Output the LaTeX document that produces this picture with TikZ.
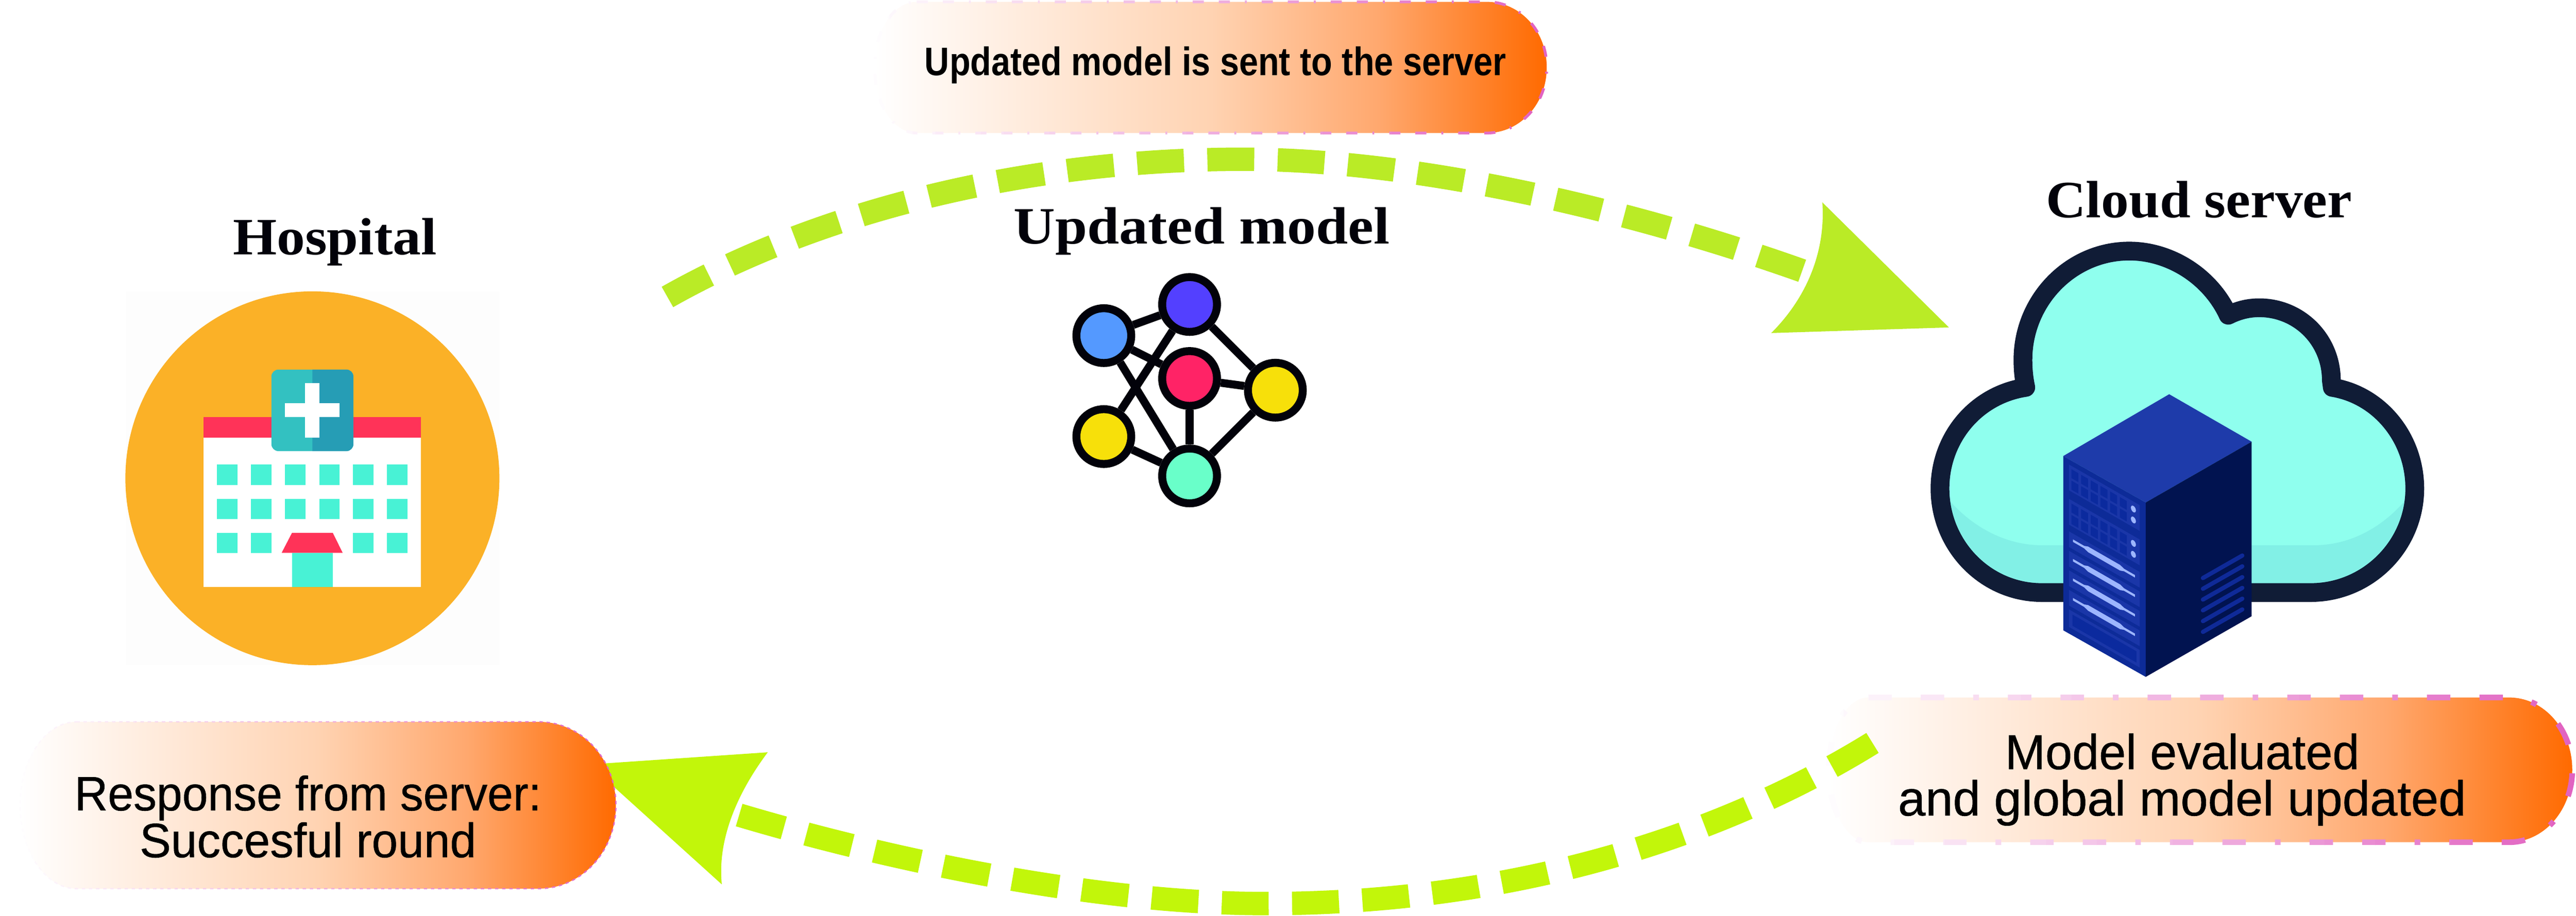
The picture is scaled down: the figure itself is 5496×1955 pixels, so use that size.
\documentclass[tikz,border=0pt]{standalone}
\usepackage{fontspec}
\usepackage{graphicx}
\setmainfont{Liberation Serif}
\newfontfamily\boxfont[FakeBold=0.6]{Liberation Sans}
\newfontfamily\boxfontb{Liberation Sans Bold}
\definecolor{inkc}{HTML}{02020A}
\definecolor{orangec}{HTML}{FBB127}
\definecolor{tealc}{HTML}{48F2D5}
\definecolor{redc}{HTML}{FF3358}
\definecolor{signa}{HTML}{33C1C1}
\definecolor{signb}{HTML}{269DB5}
\definecolor{nblue}{HTML}{5499FF}
\definecolor{npurple}{HTML}{5340FF}
\definecolor{nred}{HTML}{FF2366}
\definecolor{nyellow}{HTML}{F7E00A}
\definecolor{ngreen}{HTML}{69FFC9}
\definecolor{arrowa}{HTML}{BAEB26}
\definecolor{arrowb}{HTML}{C2F60A}
\definecolor{cloudf}{HTML}{8FFFEE}
\definecolor{cloudd}{HTML}{82F0E6}
\definecolor{cloudl}{HTML}{101C36}
\definecolor{srvtop}{HTML}{1E3BAA}
\definecolor{srvleft}{HTML}{0D2B98}
\definecolor{srvright}{HTML}{011350}
\definecolor{srvpanel}{HTML}{1A36A8}
\definecolor{srvcell}{HTML}{0B2A9E}
\definecolor{srvbar}{HTML}{9DB6FF}
\definecolor{srvvent}{HTML}{0F2A98}
\definecolor{bpink}{HTML}{E060C0}
\definecolor{gmid}{HTML}{FFD3B2}
\definecolor{gq}{HTML}{FFA86E}
\definecolor{gend}{HTML}{FF6A00}
\pgfdeclarehorizontalshading{boxgrad}{100bp}{color(0bp)=(white); color(25bp)=(white); color(50bp)=(gmid); color(62.5bp)=(gq); color(75bp)=(gend); color(100bp)=(gend)}
\tikzset{
  netnode/.style={circle,draw=inkc,line width=4.25pt,minimum size=29.25pt,inner sep=0pt},
  netedge/.style={draw=inkc,line width=4.25pt},
  titletext/.style={anchor=base,inner sep=0pt,text=inkc,font=\fontsize{28pt}{32pt}\selectfont\bfseries},
  boxtext/.style={anchor=base,inner sep=0pt,text=black},
  window/.style={fill=tealc},
  arcline/.style={line width=12.5pt,dash pattern=on 25pt off 12.5pt}
}
\def\pathA{(1956,4) -- (3172,4) .. controls (3243,4) and (3300,66) .. (3300,144) .. controls (3300,222) and (3243,284) .. (3172,284) -- (1956,284) .. controls (1906,284) and (1866,222) .. (1866,144) .. controls (1866,66) and (1906,4) .. (1956,4)}
\def\pathB{(3986,1489) -- (5353,1489) .. controls (5428,1489) and (5488,1558) .. (5488,1643.5) .. controls (5488,1729) and (5428,1798) .. (5353,1798) -- (3986,1798) .. controls (3940,1798) and (3902,1729) .. (3902,1643.5) .. controls (3902,1558) and (3940,1489) .. (3986,1489)}
\def\pathC{(163,1541) -- (1150,1541) .. controls (1241,1541) and (1314,1621) .. (1314,1719) .. controls (1314,1817) and (1241,1897) .. (1150,1897) -- (163,1897) .. controls (97,1897) and (43,1817) .. (43,1719) .. controls (43,1621) and (97,1541) .. (163,1541)}
\newcommand{\gradstroke}[5]{%
  \foreach \i in {0,...,29}{%
    \pgfmathsetmacro\xa{#2+(#3-#2)/30*\i-0.4}%
    \pgfmathsetmacro\xb{#2+(#3-#2)/30*(\i+1)+0.4}%
    \pgfmathsetmacro\pc{100*(\i+0.5)/30}%
    \begin{scope}
      \clip (\xa,-20) rectangle (\xb,1975);
      \draw[draw=bpink!\pc!white,line width=#4,dash pattern=#5] #1 -- cycle;
    \end{scope}%
  }%
}
\begin{document}
\begin{tikzpicture}[x=0.25pt,y=-0.25pt]
\useasboundingbox (0,0) rectangle (5496,1955);
\fill[white] (0,0) rectangle (5496,1955);

% Hospital
\node[titletext] (hosp) at (714.5,544) {\resizebox{108.75pt}{\height}{Hospital}};
\fill[white!99.3!black] (268,622) rectangle (1065,1420);
\fill[orangec] (666.5,1021) circle [radius=399];
\fill[redc] (434,890) rectangle (898,934);
\fill[white] (434,934) rectangle (898,1253);
\foreach \x in {463,535.6,608,681,753,825.6}{
  \foreach \y in {992,1064.6}{ \fill[window] (\x,\y) rectangle ++(43.6,43.6); }
}
\foreach \x in {463,535.6,753,825.6}{ \fill[window] (\x,1137.5) rectangle ++(43.6,43); }
\fill[window] (623,1180) rectangle (710,1253);
\fill[redc] (623,1137.5) -- (710,1137.5) -- (731,1180) -- (601,1180) -- cycle;
\fill[signa,rounded corners=3.75pt] (579,789) rectangle (754,963);
\begin{scope}
  \clip (666.5,780) rectangle (760,970);
  \fill[signb,rounded corners=3.75pt] (579,789) rectangle (754,963);
\end{scope}
\fill[white] (651,818) rectangle (681,934);
\fill[white] (607.5,861) rectangle (724.5,890);

% Network
\node[titletext] (updt) at (2564,521) {\resizebox{200.5pt}{\height}{Updated model}};
\node[netnode,fill=nblue] (n1) at (2355,716.5) {};
\node[netnode,fill=npurple] (n2) at (2538,650) {};
\node[netnode,fill=nred] (n3) at (2538,808) {};
\node[netnode,fill=nyellow] (n4) at (2721,833) {};
\node[netnode,fill=nyellow] (n5) at (2355,932) {};
\node[netnode,fill=ngreen] (n6) at (2538,1016) {};
\foreach \a/\b in {n1/n2,n2/n5,n1/n3,n1/n6,n2/n4,n3/n4,n3/n6,n5/n6,n4/n6}{
  \draw[netedge] (\a) -- (\b);
}

% Cloud
\node[titletext] (clds) at (4691.5,464) {\resizebox{163.25pt}{\height}{Cloud server}};
\def\cloudpath{(4356,1265) .. controls (4236,1265) and (4139,1165) .. (4139,1043) .. controls (4139,934) and (4216,843) .. (4322,827) .. controls (4318,808) and (4316,790) .. (4316,768) .. controls (4316,642) and (4417,536) .. (4543,536) .. controls (4630,536) and (4716,590) .. (4754,673) .. controls (4776,662) and (4798,657) .. (4820,657) .. controls (4905,657) and (4974,725) .. (4974,812) -- (4976,827) .. controls (5076,843) and (5152,934) .. (5152,1043) .. controls (5152,1165) and (5052,1265) .. (4930,1265) -- cycle}
\fill[cloudf] \cloudpath;
\fill[cloudd] (4139,1043) .. controls (4190,1115) and (4270,1164) .. (4356,1164) -- (4937,1164) .. controls (5025,1164) and (5100,1115) .. (5152,1043) .. controls (5152,1165) and (5052,1265) .. (4930,1265) -- (4356,1265) .. controls (4236,1265) and (4139,1165) .. (4139,1043) -- cycle;
\draw[cloudl,line width=10pt,line join=round] \cloudpath;

% Server
\fill[srvtop] (4628,841.6) -- (4804,943) -- (4578,1072.7) -- (4402,973.6) -- cycle;
\fill[srvleft] (4402,973.6) -- (4578,1072.7) -- (4578,1445) -- (4402,1345.6) -- cycle;
\fill[srvright] (4578,1072.7) -- (4804,943) -- (4804,1315.5) -- (4578,1445) -- cycle;
\foreach \i in {0,...,5}{
  \draw[srvvent,line width=2.25pt,line cap=round] (4700,1234+23*\i) -- (4784,1186+23*\i);
}
\begin{scope}[shift={(4380,950)},scale=0.33333,yslant=-0.575]
  \foreach \v in {66,286}{
    \fill[srvpanel] (103,\v) rectangle (555,\v+165);
    \foreach \c in {0,...,5}{
      \fill[srvcell] (118+62*\c,\v+21) rectangle ++(45,57);
      \fill[srvcell] (118+62*\c,\v+94) rectangle ++(45,58);
    }
    \fill[srvbar] (515,\v+48) ellipse [x radius=16,y radius=20];
    \fill[srvbar] (515,\v+118) ellipse [x radius=16,y radius=20];
  }
  \foreach \v in {494,619,744,869}{
    \fill[srvpanel] (103,\v) rectangle (555,\v+100);
    \fill[srvbar] (128,\v+37) -- (200,\v+37) -- (225,\v+27) -- (430,\v+27) -- (455,\v+37) -- (525,\v+37) -- (525,\v+53) -- (455,\v+53) -- (430,\v+63) -- (225,\v+63) -- (200,\v+53) -- (128,\v+53) -- cycle;
  }
  \fill[srvpanel] (103,994) rectangle (555,1106);
  \fill[srvcell] (125,1014) rectangle (535,1086);
\end{scope}

% Box B
\shade[shading=boxgrad] \pathB -- cycle;
\gradstroke{\pathB}{3880}{5500}{3pt}{on 12.5pt off 15.5pt on 12.5pt off 15.5pt on 3pt off 15.5pt}
\node[boxtext] (btxa) at (4656,1642) {\resizebox{189pt}{\height}{\fontsize{26.25pt}{30pt}\boxfont Model evaluated}};
\node[boxtext] (btxb) at (4655.5,1741) {\resizebox{303pt}{\height}{\fontsize{26.25pt}{30pt}\boxfont and global model updated}};

% Upper arc
\coordinate (aS) at (1424,634);
\coordinate (aT) at (2650,340);
\coordinate (aE) at (3845,578);
\draw[arrowa,arcline] (aS) .. controls (1740,455) and (2180,340) .. (aT) .. controls (3020,340) and (3473,446) .. (aE);
\fill[arrowa] (4158,699) -- (3888,432) .. controls (3895,530) and (3860,630) .. (3779,711) -- cycle;

% Lower arc
\coordinate (bS) at (3995,1586);
\coordinate (bB) at (2700,1929);
\coordinate (bE) at (1577,1740);
\draw[arrowb,arcline] (bS) .. controls (3690,1775) and (3250,1929) .. (bB) .. controls (2350,1929) and (1916,1841) .. (bE);
\fill[arrowb] (1257,1632) -- (1638,1606) .. controls (1575,1690) and (1530,1790) .. (1540,1888) -- cycle;

% Box C
\shade[shading=boxgrad] \pathC -- cycle;
\gradstroke{\pathC}{30}{1325}{0.7pt}{on 1.8pt off 2pt}
\node[boxtext] (ctxa) at (657,1730) {\resizebox{249pt}{\height}{\fontsize{25.75pt}{30pt}\boxfont Response from server:}};
\node[boxtext] (ctxb) at (657,1830) {\resizebox{179.5pt}{\height}{\fontsize{25.75pt}{30pt}\boxfont Succesful round}};

% Box A
\shade[shading=boxgrad] \pathA -- cycle;
\gradstroke{\pathA}{1850}{3310}{1.5pt}{on 5.9pt off 8pt on 5.9pt off 8pt on 1pt off 8pt}
\node[boxtext] (atx) at (2593,161) {\resizebox{310pt}{\height}{\fontsize{21.25pt}{25pt}\boxfontb Updated model is sent to the server}};
\end{tikzpicture}
\end{document}
